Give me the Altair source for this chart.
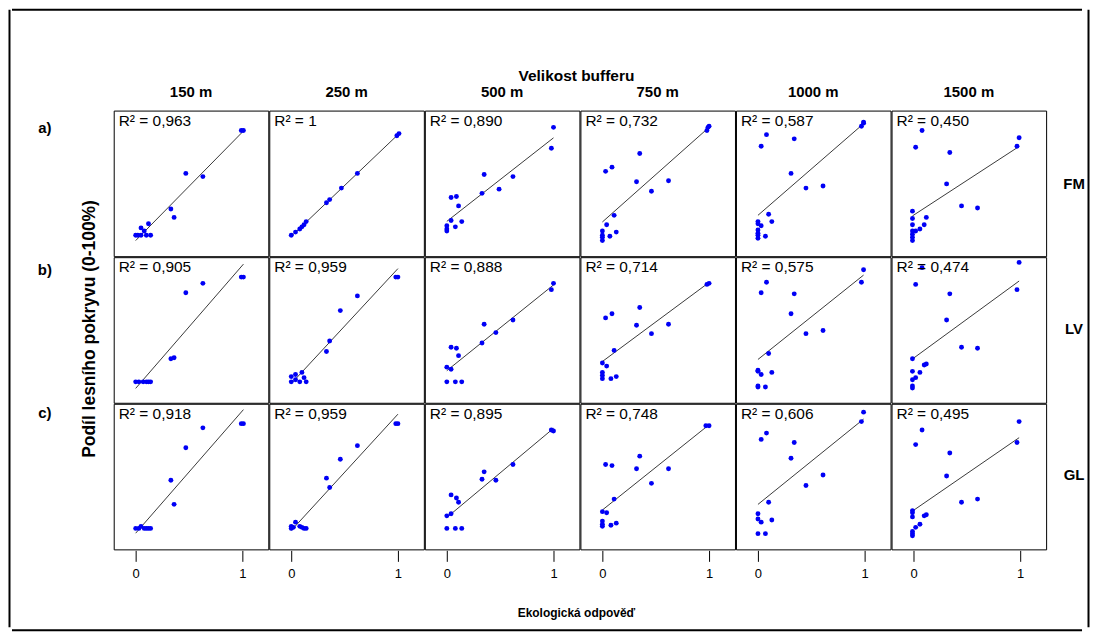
import altair as alt
import pandas as pd

FONT = "Liberation Sans"

ROWS = ["FM", "LV", "GL"]
ROW_TAGS = ["a)", "b)", "c)"]
BUFFERS = ["150 m", "250 m", "500 m", "750 m", "1000 m", "1500 m"]
TITLE_TOP = "Velikost bufferu"
TITLE_X = "Ekologická odpověď"
TITLE_Y = "Podíl lesního pokryvu (0-100%)"

R2_FM = ["0,963", "1", "0,890", "0,732", "0,587", "0,450"]
R2_LV = ["0,905", "0,959", "0,888", "0,714", "0,575", "0,474"]
R2_GL = ["0,918", "0,959", "0,895", "0,748", "0,606", "0,495"]

# ---- row a) FM ----
FM_150_X = [0.99, 1.01, 0.47, 0.63, 0.33, 0.36, 0.12, 0.05, 0.08, 0.00, 0.02, 0.05, 0.10, 0.14]
FM_150_Y = [1.00, 1.00, 0.59, 0.56, 0.25, 0.17, 0.11, 0.07, 0.04, 0.00, 0.00, 0.00, 0.00, 0.00]
FM_250_X = [0.00, 0.04, 0.08, 0.10, 0.12, 0.14, 0.33, 0.36, 0.47, 0.62, 0.99, 1.01]
FM_250_Y = [0.00, 0.03, 0.06, 0.08, 0.10, 0.13, 0.31, 0.34, 0.45, 0.59, 0.95, 0.97]
FM_500_X = [1.00, 0.98, 0.35, 0.62, 0.49, 0.33, 0.04, 0.09, 0.11, 0.04, 0.14, 0.08, 0.00, 0.00, 0.00]
FM_500_Y = [1.03, 0.83, 0.58, 0.56, 0.44, 0.40, 0.36, 0.37, 0.28, 0.14, 0.13, 0.08, 0.09, 0.06, 0.04]
FM_750_X = [1.00, 0.99, 0.98, 0.35, 0.03, 0.09, 0.32, 0.62, 0.46, 0.11, 0.04, 0.00, 0.13, 0.07, 0.00, 0.00, 0.00]
FM_750_Y = [1.04, 1.03, 1.00, 0.78, 0.61, 0.65, 0.51, 0.52, 0.42, 0.19, 0.10, 0.04, 0.03, -0.01, 0.00, -0.02, -0.05]
FM_1000_X = [0.99, 0.99, 0.97, 0.08, 0.34, 0.03, 0.31, 0.61, 0.45, 0.10, 0.13, 0.00, 0.00, 0.03, 0.00, 0.00, 0.00, 0.00, 0.07]
FM_1000_Y = [1.08, 1.07, 1.04, 0.96, 0.92, 0.85, 0.59, 0.47, 0.45, 0.20, 0.13, 0.13, 0.11, 0.09, 0.05, 0.02, 0.00, -0.03, -0.01]
FM_1500_X = [0.08, 0.99, 0.97, 0.02, 0.34, 0.31, 0.45, 0.60, -0.01, -0.01, 0.12, -0.01, 0.10, 0.06, 0.02, -0.01, -0.01, -0.01, -0.01]
FM_1500_Y = [1.00, 0.93, 0.85, 0.84, 0.79, 0.49, 0.28, 0.26, 0.23, 0.16, 0.17, 0.10, 0.10, 0.06, 0.04, 0.04, 0.01, -0.02, -0.05]

# ---- row b) LV ----
LV_150_X = [0.99, 1.01, 0.63, 0.47, 0.33, 0.36, 0.00, 0.03, 0.07, 0.10, 0.12, 0.14]
LV_150_Y = [1.00, 1.00, 0.94, 0.85, 0.22, 0.23, 0.00, 0.00, 0.00, 0.00, 0.00, 0.00]
LV_250_X = [0.98, 1.00, 0.62, 0.46, 0.36, 0.33, 0.10, 0.00, 0.04, 0.04, 0.12, 0.00, 0.08, 0.14]
LV_250_Y = [1.00, 1.00, 0.82, 0.68, 0.39, 0.29, 0.09, 0.05, 0.07, 0.02, 0.04, 0.00, 0.00, 0.00]
LV_500_X = [1.00, 0.98, 0.35, 0.62, 0.46, 0.33, 0.04, 0.09, 0.11, 0.00, 0.04, 0.00, 0.08, 0.14]
LV_500_Y = [0.94, 0.88, 0.55, 0.59, 0.47, 0.37, 0.33, 0.32, 0.25, 0.14, 0.12, 0.00, 0.00, 0.00]
LV_750_X = [0.98, 1.00, 0.35, 0.09, 0.03, 0.32, 0.62, 0.46, 0.11, 0.00, 0.04, 0.00, 0.00, 0.00, 0.08, 0.13]
LV_750_Y = [0.93, 0.94, 0.71, 0.65, 0.61, 0.54, 0.55, 0.46, 0.30, 0.18, 0.15, 0.09, 0.06, 0.03, 0.03, 0.05]
LV_1000_X = [0.99, 0.97, 0.08, 0.03, 0.34, 0.31, 0.61, 0.45, 0.10, 0.00, 0.00, 0.03, 0.13, 0.00, 0.00, 0.07]
LV_1000_Y = [1.07, 0.95, 0.95, 0.85, 0.84, 0.65, 0.49, 0.46, 0.27, 0.11, 0.10, 0.07, 0.09, -0.04, -0.05, -0.05]
LV_1500_X = [0.99, 0.97, 0.08, 0.02, 0.34, 0.31, 0.45, 0.60, -0.01, 0.10, 0.12, -0.01, 0.06, 0.02, -0.01, -0.01, -0.01]
LV_1500_Y = [1.14, 0.88, 1.09, 0.93, 0.84, 0.59, 0.33, 0.32, 0.22, 0.16, 0.17, 0.10, 0.09, 0.04, 0.02, -0.04, -0.06]

# ---- row c) GL ----
GL_150_X = [0.99, 1.01, 0.63, 0.47, 0.33, 0.36, 0.05, 0.00, 0.03, 0.08, 0.10, 0.12, 0.14]
GL_150_Y = [1.00, 1.00, 0.96, 0.77, 0.46, 0.23, 0.02, 0.00, 0.00, 0.00, 0.00, 0.00, 0.00]
GL_250_X = [0.98, 1.00, 0.62, 0.46, 0.33, 0.36, 0.04, 0.00, 0.02, 0.00, 0.08, 0.10, 0.12, 0.14]
GL_250_Y = [1.00, 1.00, 0.79, 0.66, 0.48, 0.39, 0.06, 0.02, 0.01, 0.00, 0.02, 0.01, 0.00, 0.00]
GL_500_X = [0.98, 1.00, 0.62, 0.35, 0.33, 0.46, 0.04, 0.09, 0.11, 0.00, 0.04, 0.00, 0.08, 0.14]
GL_500_Y = [0.94, 0.93, 0.61, 0.54, 0.47, 0.46, 0.32, 0.29, 0.25, 0.12, 0.14, 0.00, 0.00, 0.00]
GL_750_X = [0.97, 1.00, 0.35, 0.03, 0.09, 0.32, 0.62, 0.46, 0.11, 0.00, 0.04, 0.00, 0.00, 0.00, 0.08, 0.13]
GL_750_Y = [0.98, 0.98, 0.69, 0.61, 0.60, 0.57, 0.57, 0.43, 0.28, 0.16, 0.15, 0.07, 0.04, 0.02, 0.03, 0.05]
GL_1000_X = [0.99, 0.97, 0.08, 0.03, 0.34, 0.31, 0.61, 0.45, 0.10, 0.00, 0.00, 0.03, 0.13, 0.00, 0.07]
GL_1000_Y = [1.11, 1.02, 0.91, 0.85, 0.82, 0.67, 0.51, 0.41, 0.25, 0.14, 0.09, 0.06, 0.08, -0.05, -0.05]
GL_1500_X = [0.99, 0.97, 0.08, 0.02, 0.34, 0.31, 0.45, 0.60, -0.01, -0.01, -0.01, 0.10, 0.12, 0.06, 0.02, -0.01, -0.01, -0.01]
GL_1500_Y = [1.02, 0.82, 0.94, 0.80, 0.72, 0.50, 0.25, 0.28, 0.17, 0.15, 0.11, 0.12, 0.13, 0.04, 0.01, -0.03, -0.05, -0.07]

PANELS = {
    "FM": [(FM_150_X, FM_150_Y), (FM_250_X, FM_250_Y), (FM_500_X, FM_500_Y),
           (FM_750_X, FM_750_Y), (FM_1000_X, FM_1000_Y), (FM_1500_X, FM_1500_Y)],
    "LV": [(LV_150_X, LV_150_Y), (LV_250_X, LV_250_Y), (LV_500_X, LV_500_Y),
           (LV_750_X, LV_750_Y), (LV_1000_X, LV_1000_Y), (LV_1500_X, LV_1500_Y)],
    "GL": [(GL_150_X, GL_150_Y), (GL_250_X, GL_250_Y), (GL_500_X, GL_500_Y),
           (GL_750_X, GL_750_Y), (GL_1000_X, GL_1000_Y), (GL_1500_X, GL_1500_Y)],
}
R2 = {"FM": R2_FM, "LV": R2_LV, "GL": R2_GL}

records = []
for grp in ROWS:
    for i, buf in enumerate(BUFFERS):
        xs, ys = PANELS[grp][i]
        for k, (xv, yv) in enumerate(zip(xs, ys)):
            records.append({"grp": grp, "buf": buf, "x": xv, "y": yv,
                            "first": k == 0, "r2": "R\u00b2 = " + R2[grp][i]})
df = pd.DataFrame(records)

PW, PH = 155, 146
xscale = alt.Scale(domain=[-0.206, 1.243], nice=False, zero=False)
yscale = alt.Scale(domain=[-0.2, 1.19], nice=False, zero=False)

xenc = alt.X("x:Q", scale=xscale,
             axis=alt.Axis(values=[0, 1], format="d", title=None, grid=False, domain=False,
                           tickSize=11, tickColor="black", tickWidth=1,
                           labelFontSize=13, labelFont=FONT, labelColor="black", labelPadding=6))
yenc = alt.Y("y:Q", scale=yscale, axis=None)

base = alt.Chart(df)
fit = base.transform_regression("x", "y", groupby=["grp", "buf"]).mark_line(
    color="#3a3a3a", strokeWidth=1).encode(x=xenc, y=yenc)
pts = base.mark_circle(size=24, color="#0000f5", opacity=1).encode(x=xenc, y=yenc)
lab = base.transform_filter("datum.first").mark_text(
    align="left", baseline="top", fontSize=15.5, font=FONT, color="black"
).encode(x=alt.value(5), y=alt.value(3), text="r2:N")

cell = alt.layer(fit, pts, lab).properties(width=PW, height=PH)

grid = cell.facet(
    row=alt.Row("grp:N", sort=ROWS, header=alt.Header(title=None, labels=False)),
    column=alt.Column("buf:N", sort=BUFFERS, header=alt.Header(
        title=None, labelFont=FONT, labelFontSize=15, labelFontWeight="bold",
        labelColor="black", labelPadding=10)),
    spacing=-2,
)

NOVIEW = alt.ViewBackground(stroke="transparent", strokeWidth=0)
TXT = dict(font=FONT, color="black", fontWeight="bold")

# left side: a) b) c) and the y title (origin = top of the panel grid)
tag_df = pd.DataFrame({"tag": ROW_TAGS, "idx": list(range(len(ROW_TAGS)))})
tags = alt.Chart(tag_df).mark_text(fontSize=15, align="center", baseline="middle", **TXT).encode(
    x=alt.value(33),
    y=alt.Y("idx:Q", axis=None, scale=alt.Scale(domain=[0, 2], range=[17, 303])),
    text="tag:N",
)
ydf = pd.DataFrame({"label": [TITLE_Y]})
ytitle = alt.Chart(ydf).mark_text(fontSize=17.5, angle=270, align="center", baseline="middle",
                                  **TXT).encode(x=alt.value(78), y=alt.value(219), text="label:N")
left = alt.layer(tags, ytitle).properties(width=101, height=440, view=NOVIEW)

# right side: FM LV GL
grp_df = pd.DataFrame({"grp": ROWS, "idx": list(range(len(ROWS)))})
right = alt.Chart(grp_df).mark_text(fontSize=15, align="center", baseline="middle", **TXT).encode(
    x=alt.value(27),
    y=alt.Y("idx:Q", axis=None, scale=alt.Scale(domain=[0, 2], range=[74, 365])),
    text="grp:N",
).properties(width=40, height=440, view=NOVIEW)

# frame pieces + top/bottom titles
FW = 1073
HT, HB = 75, 50
FH = 619
blank = pd.DataFrame({"k": [0]})
top_df = pd.DataFrame({"label": [TITLE_TOP]})
bot_df = pd.DataFrame({"label": [TITLE_X]})

def rule(w, h, **enc):
    return alt.Chart(blank).mark_rule(color="black", strokeWidth=2).encode(**enc).properties(
        width=w, height=h, view=NOVIEW)

top = alt.layer(
    alt.Chart(blank).mark_rule(color="black", strokeWidth=2).encode(
        x=alt.value(0), x2=alt.value(FW), y=alt.value(0)),
    alt.Chart(top_df).mark_text(fontSize=15.5, align="center", baseline="middle", **TXT).encode(
        x=alt.value(566), y=alt.value(66), text="label:N"),
).properties(width=FW, height=HT, view=NOVIEW)

bottom = alt.layer(
    alt.Chart(blank).mark_rule(color="black", strokeWidth=2).encode(
        x=alt.value(0), x2=alt.value(FW), y=alt.value(HB)),
    alt.Chart(bot_df).mark_text(fontSize=12, align="center", baseline="middle", **TXT).encode(
        x=alt.value(566), y=alt.value(33), text="label:N"),
).properties(width=FW, height=HB, view=NOVIEW)

leftline = rule(1, FH, x=alt.value(0.5), y=alt.value(0), y2=alt.value(FH))
rightline = rule(1, FH, x=alt.value(0.5), y=alt.value(0), y2=alt.value(FH))

content = alt.hconcat(left, grid, right, spacing=0)
inner = alt.vconcat(top, content, bottom, spacing=0)
chart = alt.hconcat(leftline, inner, rightline, spacing=0).properties(padding=0).configure(
    font=FONT).configure_view(stroke="black", strokeWidth=1)

chart.save("out.html", embed_options={"renderer": "svg", "actions": False})
